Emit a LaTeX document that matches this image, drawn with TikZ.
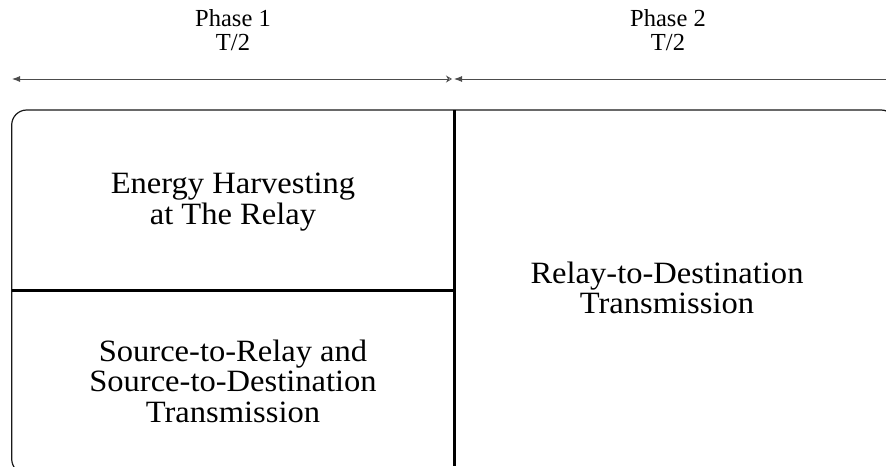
\documentclass[tikz,border=0pt]{standalone}
\usepackage{fontspec}
\setmainfont{Liberation Serif}
\newfontfamily\wideserif[FakeStretch=1.05]{Liberation Serif}
\usetikzlibrary{arrows.meta}
\begin{document}
\begin{tikzpicture}[x=1pt,y=-1pt,
  phaselabel/.style={align=center, inner sep=0pt, font=\fontsize{24.5}{24}\selectfont},
  boxlabel/.style={align=center, inner sep=0pt, font=\wideserif\fontsize{31}{30.5}\selectfont},
  timeline/.style={draw=black!70, line width=0.9pt},
  divider/.style={draw=black, line width=3pt},
  frame/.style={draw=black!90, line width=1.2pt, rounded corners=15pt}]
\useasboundingbox (0,0) rectangle (886,466);
% phase labels
\node[phaselabel] (p1) at (233,30) {Phase 1\\T/2};
\node[phaselabel] (p2) at (668,30) {Phase 2\\T/2};
% timeline coordinates
\coordinate (a1l) at (12,79);
\coordinate (a1r) at (452,79);
\coordinate (a2l) at (454,79);
\coordinate (a2r) at (890,79);
\begin{scope}
\clip (0,0) rectangle (886,466);
\draw[timeline, {Latex[length=8pt,width=6pt]}-{Stealth[open,length=6pt,width=7pt]}] (a1l) -- (a1r);
\draw[timeline, {Latex[length=8pt,width=6pt]}-] (a2l) -- (a2r);
% frame
\draw[frame] (11.7,110) rectangle (896,474);
\end{scope}
% dividers
\coordinate (vtop) at (454,110);
\coordinate (vbot) at (454,466);
\coordinate (hl) at (12,290);
\coordinate (hr) at (454,290);
\draw[divider] (vtop) -- (vbot);
\draw[divider] (hl) -- (hr);
% box labels
\node[boxlabel] (eh) at (233,202) {Energy Harvesting\\at The Relay};
\node[boxlabel] (sr) at (233,381) {Source-to-Relay and\\Source-to-Destination\\Transmission};
\node[boxlabel] (rd) at (667,288) {Relay-to-Destination\\Transmission};
\end{tikzpicture}
\end{document}
